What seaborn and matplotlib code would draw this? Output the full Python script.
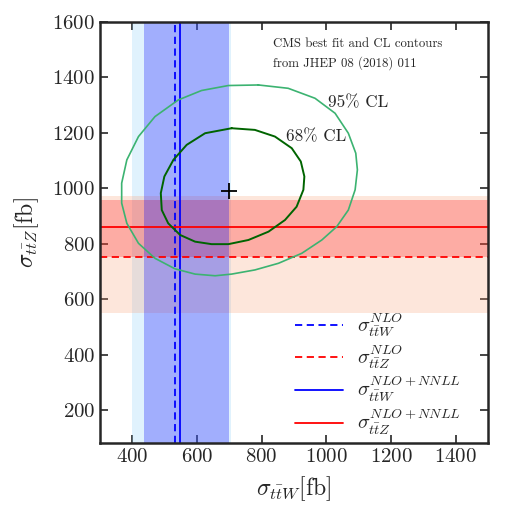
import numpy as np
import matplotlib
matplotlib.use("Agg")
import matplotlib.pyplot as plt
import seaborn as sns

# theory predictions [fb]: central value and band (lo, hi)
ttw_nlo = 531
ttw_nlo_band = (400, 705)
ttw_nnll = 546
ttw_nnll_band = (437, 700)
ttz_nlo = 751
ttz_nlo_band = (550, 972)
ttz_nnll = 862
ttz_nnll_band = (751, 960)

# CMS best fit point
best_fit_ttw = [700]
best_fit_ttz = [992]

# CMS contours
cl95_ttw = [790, 882, 965, 1027, 1068, 1091, 1096, 1089, 1068, 1032, 986, 924, 852, 779,
            707, 656, 594, 532, 470, 419, 383, 367, 367, 383, 419, 470, 542, 614, 697, 790]
cl95_ttz = [1373, 1361, 1325, 1271, 1199, 1127, 1067, 995, 922, 862, 814, 766, 730, 706,
            691, 685, 691, 710, 748, 802, 874, 947, 1019, 1103, 1187, 1259, 1319, 1353, 1371, 1373]
cl68_ttw = [707, 779, 841, 893, 921, 932, 929, 908, 872, 821, 759, 697,
            645, 594, 548, 511, 491, 488, 499, 527, 568, 625, 707]
cl68_ttz = [1217, 1211, 1187, 1145, 1097, 1043, 995, 934, 886, 844, 814, 799,
            799, 808, 832, 874, 922, 983, 1043, 1103, 1157, 1199, 1217]

sns.set_style("ticks")
plt.rcParams["font.family"] = ["cmr10", "DejaVu Serif"]
plt.rcParams["mathtext.fontset"] = "cm"
plt.rcParams["axes.formatter.use_mathtext"] = True
plt.rcParams["axes.unicode_minus"] = False

fig = plt.figure(figsize=(5.19, 5.05), dpi=100)
ax = fig.add_axes([0.1927, 0.1228, 0.7476, 0.8336])

# bands
ax.axvspan(*ttw_nlo_band, color="#87cefa", alpha=0.25, lw=0)
ax.axhspan(*ttz_nlo_band, color="#fa9d73", alpha=0.25, lw=0)
ax.axhspan(*ttz_nnll_band, color="red", alpha=0.25, lw=0)
ax.axvspan(*ttw_nnll_band, color="blue", alpha=0.28, lw=0)

# central values
ax.axvline(ttw_nlo, color="blue", ls=(0, (4, 2.5)), lw=1.3,
           label=r"$\sigma_{t\bar{t}W}^{NLO}$")
ax.axhline(ttz_nlo, color="red", ls=(0, (4, 2.5)), lw=1.3,
           label=r"$\sigma_{t\bar{t}Z}^{NLO}$")
ax.axvline(ttw_nnll, color="blue", lw=1.3,
           label=r"$\sigma_{t\bar{t}W}^{NLO+NNLL}$")
ax.axhline(ttz_nnll, color="red", lw=1.3,
           label=r"$\sigma_{t\bar{t}Z}^{NLO+NNLL}$")

# contours
sns.lineplot(x=cl95_ttw, y=cl95_ttz, sort=False, estimator=None,
             color="#3cb371", lw=1.2, ax=ax)
sns.lineplot(x=cl68_ttw, y=cl68_ttz, sort=False, estimator=None,
             color="#006400", lw=1.4, ax=ax)
ax.plot(best_fit_ttw, best_fit_ttz, marker="+", color="black", ms=12, mew=1.3, ls="none")

ax.text(1005, 1308, "95% CL", fontsize=12.3, ha="left", va="center")
ax.text(875, 1185, "68% CL", fontsize=12.3, ha="left", va="center")
ax.text(835, 1521, "CMS best fit and CL contours", fontsize=9.2, ha="left", va="center")
ax.text(835, 1451, "from JHEP 08 (2018) 011", fontsize=9.2, ha="left", va="center")

ax.set_xlim(300, 1500)
ax.set_ylim(82, 1600)
ax.set_xticks([400, 600, 800, 1000, 1200, 1400])
ax.set_yticks([200, 400, 600, 800, 1000, 1200, 1400, 1600])
ax.tick_params(direction="in", top=True, right=True, length=6, width=1.2, labelsize=15)
for sp in ax.spines.values():
    sp.set_linewidth(1.8)

ax.set_xlabel(r"$\sigma_{t\bar{t}W}$[fb]", fontsize=17, labelpad=6)
ax.set_ylabel(r"$\sigma_{t\bar{t}Z}$[fb]", fontsize=17, labelpad=8)

ax.legend(loc="lower right", frameon=False, fontsize=14.5, handlelength=2.35,
          handletextpad=0.7, labelspacing=0.2, borderaxespad=0.0,
          bbox_to_anchor=(0.95, -0.005))

fig.savefig("out.png", dpi=100)
